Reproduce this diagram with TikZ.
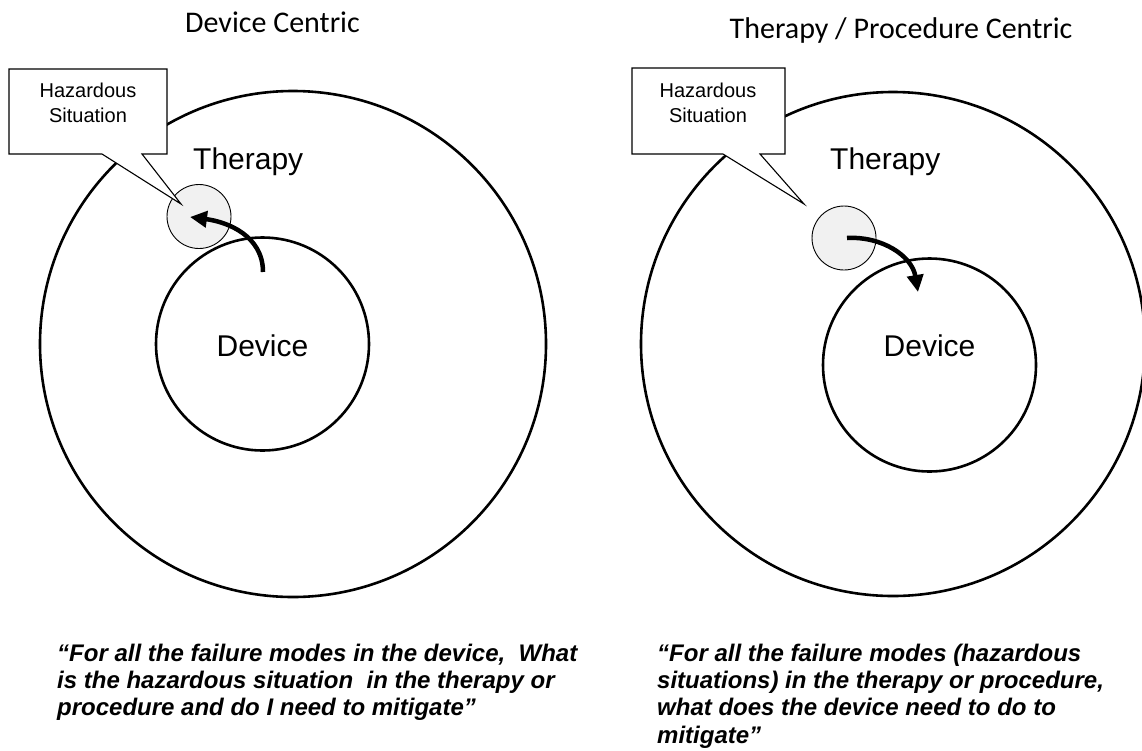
\documentclass[tikz,border=0pt]{standalone}
\usepackage{fontspec}
\usetikzlibrary{arrows.meta}
\newfontfamily\arialfont{Liberation Sans}
\newfontfamily\calibrifont{Carlito}
\definecolor{hazgray}{RGB}{241,241,241}
\begin{document}
\begin{tikzpicture}[x=1pt,y=-1pt,
  ring/.style={circle, draw, line width=2.6pt, inner sep=0pt},
  hazdot/.style={circle, draw, line width=0.9pt, fill=hazgray, inner sep=0pt, minimum size=64pt},
  flow/.style={line width=4.5pt, -{Triangle[length=17pt,width=16pt]}},
  callout/.style={draw, fill=white, line width=1.1pt, line join=miter},
  heading/.style={font=\calibrifont\fontsize{30}{36}\selectfont, anchor=base, inner sep=0pt},
  ringlabel/.style={font=\arialfont\fontsize{30}{36}\selectfont, inner sep=0pt},
  calltext/.style={font=\arialfont\fontsize{20}{25}\selectfont, align=center, inner sep=0pt, anchor=base},
  quote/.style={font=\arialfont\bfseries\itshape\fontsize{24}{27.3}\selectfont, align=left, inner sep=0pt, anchor=base west}
]
\fill[white] (0,0) rectangle (1142,750);
\useasboundingbox (0,0) rectangle (1142,750);

% ---- left panel: device centric ----
\node[heading] (titleL) at (272.5,32) {Device Centric};
\node[ring, minimum size=506pt] (therL) at (293,344) {};
\node[ring, minimum size=213pt] (devL) at (262.5,344) {};
\node[hazdot] (hazL) at (199,216.5) {};
\coordinate (srcL) at (263,272);
\coordinate (dstL) at (190,217);
\draw[flow] (srcL) .. controls (263,236) and (228,222) .. (dstL);
\coordinate (tipL) at (181,204);
\draw[callout] (9,69) -- (167,69) -- (167,154) -- (142,154) -- (tipL) -- (102,154) -- (9,154) -- cycle;
% multi-line nodes sit on the baseline of their last line
\node[calltext] (hsL) at (88,122) {Hazardous\\Situation};
\node[ringlabel, anchor=base west] (therLabL) at (193,169) {Therapy};
\node[ringlabel, anchor=base] (devLabL) at (262.5,356) {Device};
\node[quote] (qL) at (57,715.6) {“For all the failure modes in the device,\ \ What\\is the hazardous situation\ \ in the therapy or\\procedure and do I need to mitigate”};

% ---- right panel: therapy / procedure centric ----
\node[heading] (titleR) at (901,38) {Therapy / Procedure Centric};
\node[ring, minimum size=504pt] (therR) at (893,344) {};
\node[ring, minimum size=213pt] (devR) at (929.5,365) {};
\node[hazdot] (hazR) at (844,238) {};
\coordinate (srcR) at (847,238);
\coordinate (dstR) at (918,292);
\draw[flow] (srcR) .. controls (882,236) and (912,256) .. (dstR);
\coordinate (tipR) at (804,204);
\draw[callout] (632,68) -- (785,68) -- (785,154) -- (760,154) -- (tipR) -- (723,154) -- (632,154) -- cycle;
\node[calltext] (hsR) at (708,122) {Hazardous\\Situation};
\node[ringlabel, anchor=base west] (therLabR) at (830,169) {Therapy};
\node[ringlabel, anchor=base] (devLabR) at (929.5,356) {Device};
\node[quote] (qR) at (657,743) {“For all the failure modes (hazardous\\situations) in the therapy or procedure,\\what does the device need to do to\\mitigate”};
\end{tikzpicture}
\end{document}
